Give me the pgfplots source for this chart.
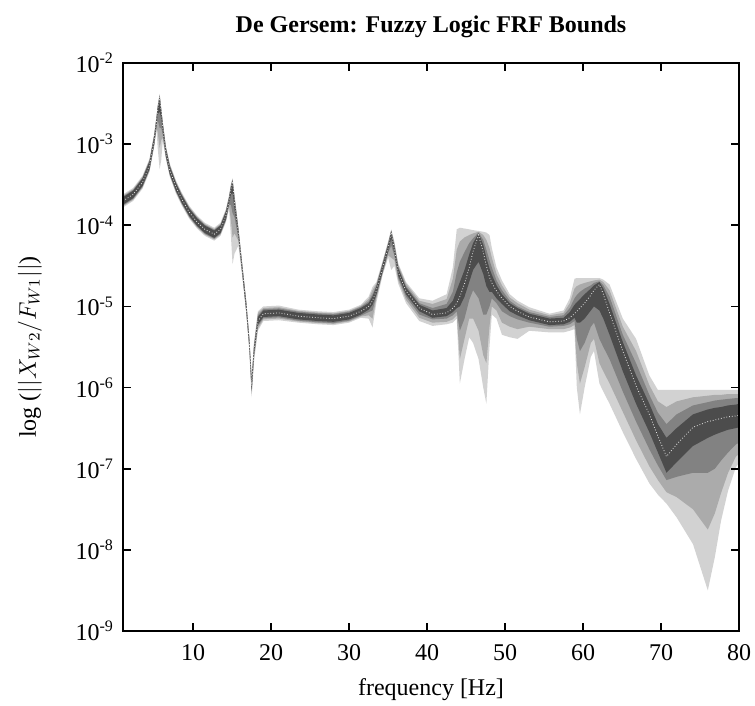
\documentclass[border=0pt]{standalone}
\usepackage{pgfplots}
\pgfplotsset{compat=1.18}
\usepgfplotslibrary{fillbetween}
\usepackage{pgfplotstable}
\usepackage{fontspec}
\setmainfont{Liberation Serif}

% log10 of |X_W2/F_W1| : centre c, outer bounds uo/lo, then inner fuzzy levels
\pgfplotstableread{
x     c      uo     lo     u2     l2     u3     l3     uk     lk
1.0  -3.70  -3.62  -3.78  -3.635 -3.765 -3.645 -3.755 -3.655 -3.745
2.3  -3.62  -3.54  -3.70  -3.555 -3.685 -3.565 -3.675 -3.575 -3.665
3.5  -3.47  -3.39  -3.55  -3.405 -3.535 -3.415 -3.525 -3.425 -3.515
4.4  -3.26  -3.18  -3.34  -3.195 -3.325 -3.205 -3.315 -3.215 -3.305
5.0  -2.95  -2.87  -3.03  -2.885 -3.015 -2.895 -3.005 -2.905 -2.995
5.3  -2.72  -2.65  -2.82  -2.66  -2.80  -2.67  -2.79  -2.68  -2.77
5.45 -2.58  -2.52  -3.05  -2.53  -2.85  -2.54  -2.70  -2.55  -2.63
5.7  -2.42  -2.38  -3.31  -2.39  -3.05  -2.40  -2.80  -2.41  -2.60
5.9  -2.60  -2.55  -3.20  -2.56  -2.95  -2.57  -2.80  -2.58  -2.68
6.1  -2.80  -2.72  -2.96  -2.735 -2.92  -2.745 -2.88  -2.755 -2.85
6.5  -3.10  -3.02  -3.18  -3.035 -3.165 -3.045 -3.155 -3.055 -3.145
7.0  -3.32  -3.24  -3.40  -3.255 -3.385 -3.265 -3.375 -3.275 -3.365
7.8  -3.53  -3.45  -3.61  -3.465 -3.595 -3.475 -3.585 -3.485 -3.575
8.5  -3.67  -3.59  -3.75  -3.605 -3.735 -3.615 -3.725 -3.625 -3.715
9.5  -3.84  -3.76  -3.92  -3.775 -3.905 -3.785 -3.895 -3.795 -3.885
10.5 -3.96  -3.88  -4.04  -3.895 -4.025 -3.905 -4.015 -3.915 -4.005
11.5 -4.05  -3.97  -4.13  -3.985 -4.115 -3.995 -4.105 -4.005 -4.095
12.7 -4.11  -4.03  -4.19  -4.045 -4.175 -4.055 -4.165 -4.065 -4.155
13.5 -4.05  -3.97  -4.13  -3.985 -4.115 -3.995 -4.105 -4.005 -4.095
14.2 -3.88  -3.80  -3.96  -3.815 -3.945 -3.825 -3.935 -3.835 -3.925
14.6 -3.70  -3.63  -3.80  -3.645 -3.76  -3.655 -3.75  -3.665 -3.735
14.85 -3.55 -3.49  -4.15  -3.50  -3.95  -3.51  -3.75  -3.52  -3.62
15.05 -3.46 -3.42  -4.48  -3.43  -4.15  -3.44  -3.85  -3.45  -3.60
15.3 -3.72  -3.62  -4.35  -3.64  -4.10  -3.66  -3.90  -3.68  -3.80
15.8 -4.10  -4.02  -4.25  -4.035 -4.19  -4.05  -4.16  -4.06  -4.14
16.3 -4.55  -4.47  -4.63  -4.485 -4.615 -4.50  -4.60  -4.51  -4.59
16.8 -5.00  -4.92  -5.08  -4.935 -5.065 -4.945 -5.055 -4.955 -5.045
17.2 -5.45  -5.37  -5.55  -5.385 -5.52  -5.40  -5.50  -5.41  -5.49
17.5 -5.98  -5.85  -6.12  -5.88  -6.08  -5.90  -6.05  -5.92  -6.03
17.8 -5.55  -5.45  -5.68  -5.47  -5.64  -5.49  -5.61  -5.51  -5.59
18.3 -5.18  -5.06  -5.30  -5.08  -5.27  -5.11  -5.24  -5.13  -5.22
19.0 -5.09  -5.00  -5.18  -5.02  -5.16  -5.035 -5.145 -5.05  -5.13
21.0 -5.08  -4.99  -5.17  -5.01  -5.15  -5.025 -5.135 -5.04  -5.12
23.5 -5.12  -5.04  -5.20  -5.055 -5.185 -5.065 -5.175 -5.08  -5.16
26.0 -5.14  -5.06  -5.22  -5.075 -5.205 -5.085 -5.195 -5.10  -5.18
28.0 -5.15  -5.07  -5.23  -5.085 -5.215 -5.095 -5.205 -5.11  -5.19
30.0 -5.12  -5.04  -5.20  -5.055 -5.185 -5.065 -5.175 -5.08  -5.16
31.5 -5.06  -4.98  -5.14  -4.995 -5.125 -5.005 -5.115 -5.02  -5.10
32.5 -5.00  -4.88  -5.15  -4.91  -5.11  -4.94  -5.07  -4.96  -5.04
33.0 -4.93  -4.76  -5.26  -4.80  -5.15  -4.85  -5.05  -4.88  -4.98
33.5 -4.80  -4.70  -4.95  -4.72  -4.90  -4.74  -4.87  -4.76  -4.85
34.3 -4.52  -4.44  -4.61  -4.455 -4.595 -4.47  -4.58  -4.48  -4.565
35.0 -4.28  -4.20  -4.40  -4.215 -4.37  -4.23  -4.34  -4.24  -4.32
35.4 -4.09  -4.05  -4.55  -4.06  -4.40  -4.07  -4.25  -4.075 -4.16
35.8 -4.30  -4.20  -4.50  -4.22  -4.43  -4.24  -4.37  -4.26  -4.34
36.3 -4.58  -4.47  -4.72  -4.49  -4.68  -4.51  -4.65  -4.53  -4.62
37.3 -4.81  -4.70  -4.96  -4.72  -4.92  -4.75  -4.88  -4.77  -4.85
39.0 -5.02  -4.90  -5.18  -4.93  -5.14  -4.96  -5.10  -4.98  -5.06
40.7 -5.10  -4.93  -5.24  -4.97  -5.20  -5.02  -5.16  -5.05  -5.14
42.5 -5.08  -4.85  -5.22  -4.91  -5.19  -4.97  -5.15  -5.02  -5.12
43.3 -5.02  -4.52  -5.20  -4.66  -5.16  -4.82  -5.11  -4.93  -5.07
43.8 -4.96  -4.05  -5.15  -4.30  -5.11  -4.58  -5.06  -4.80  -5.02
44.2 -4.88  -4.03  -5.95  -4.20  -5.65  -4.45  -5.30  -4.70  -5.00
44.8 -4.72  -4.04  -5.65  -4.15  -5.40  -4.33  -5.15  -4.55  -4.88
45.4 -4.52  -4.05  -5.38  -4.12  -5.15  -4.22  -4.92  -4.36  -4.70
45.9 -4.32  -4.06  -5.45  -4.10  -5.15  -4.16  -4.80  -4.22  -4.55
46.6 -4.12  -4.07  -5.65  -4.08  -5.30  -4.09  -4.90  -4.10  -4.45
47.2 -4.33  -4.08  -6.00  -4.12  -5.60  -4.18  -5.10  -4.24  -4.60
47.6 -4.50  -4.09  -6.20  -4.18  -5.70  -4.30  -5.10  -4.40  -4.75
48.0 -4.64  -4.12  -5.50  -4.28  -5.25  -4.43  -5.00  -4.53  -4.82
48.3 -4.71  -4.28  -5.10  -4.40  -5.00  -4.52  -4.90  -4.61  -4.82
48.9 -4.81  -4.52  -5.15  -4.60  -5.05  -4.68  -4.96  -4.74  -4.90
49.6 -4.90  -4.68  -5.35  -4.74  -5.20  -4.80  -5.06  -4.85  -4.97
50.6 -5.00  -4.85  -5.38  -4.89  -5.25  -4.93  -5.12  -4.96  -5.06
51.6 -5.06  -4.93  -5.40  -4.96  -5.28  -5.00  -5.16  -5.02  -5.11
53.1 -5.13  -5.01  -5.30  -5.04  -5.25  -5.07  -5.20  -5.09  -5.17
55.7 -5.19  -5.09  -5.32  -5.11  -5.28  -5.13  -5.25  -5.15  -5.23
57.5 -5.18  -5.05  -5.32  -5.08  -5.28  -5.11  -5.24  -5.14  -5.22
58.3 -5.14  -4.90  -5.30  -4.96  -5.26  -5.02  -5.22  -5.07  -5.19
58.9 -5.09  -4.66  -5.28  -4.78  -5.23  -4.90  -5.18  -4.98  -5.14
59.2 -5.06  -4.65  -6.00  -4.75  -5.70  -4.86  -5.40  -4.95  -5.20
59.6 -5.02  -4.65  -6.33  -4.73  -5.95  -4.82  -5.55  -4.91  -5.20
60.2 -4.96  -4.65  -6.00  -4.71  -5.75  -4.78  -5.45  -4.85  -5.15
61.0 -4.86  -4.65  -5.62  -4.69  -5.45  -4.74  -5.25  -4.78  -5.05
61.4 -4.80  -4.65  -5.55  -4.68  -5.40  -4.71  -5.20  -4.74  -5.00
62.1 -4.73  -4.65  -5.95  -4.67  -5.70  -4.69  -5.40  -4.70  -5.05
62.6 -4.85  -4.67  -6.05  -4.70  -5.80  -4.74  -5.50  -4.78  -5.15
63.4 -5.08  -4.73  -6.20  -4.80  -5.95  -4.88  -5.65  -4.97  -5.35
65.1 -5.55  -5.15  -6.55  -5.25  -6.30  -5.35  -6.05  -5.44  -5.80
66.8 -5.98  -5.40  -6.88  -5.55  -6.65  -5.70  -6.42  -5.85  -6.20
68.5 -6.33  -5.85  -7.18  -5.97  -6.97  -6.09  -6.76  -6.20  -6.55
69.6 -6.60  -6.03  -7.32  -6.17  -7.14  -6.31  -6.96  -6.45  -6.80
70.7 -6.85  -6.03  -7.43  -6.24  -7.29  -6.45  -7.14  -6.62  -7.05
72.0 -6.70  -6.03  -7.60  -6.17  -7.35  -6.33  -7.10  -6.50  -6.92
74.1 -6.49  -6.03  -7.93  -6.12  -7.50  -6.22  -7.05  -6.33  -6.72
76.0 -6.42  -6.03  -8.50  -6.10  -7.75  -6.18  -7.05  -6.27  -6.62
76.9 -6.40  -6.03  -8.09  -6.09  -7.55  -6.16  -7.00  -6.25  -6.58
77.7 -6.38  -6.03  -7.64  -6.09  -7.30  -6.15  -6.90  -6.24  -6.55
78.6 -6.36  -6.03  -7.27  -6.08  -7.05  -6.14  -6.80  -6.22  -6.52
79.6 -6.35  -6.03  -6.98  -6.08  -6.85  -6.13  -6.70  -6.21  -6.50
80.0 -6.34  -6.03  -6.93  -6.08  -6.82  -6.13  -6.68  -6.20  -6.49
}\frf

\definecolor{lev1}{HTML}{D2D2D2}
\definecolor{lev2}{HTML}{ABABAB}
\definecolor{lev3}{HTML}{828282}
\definecolor{lev4}{HTML}{4C4C4C}

\begin{document}
\begin{tikzpicture}
\begin{axis}[
  scale only axis,
  width=308pt, height=284pt,
  xmin=1, xmax=80, ymin=-9, ymax=-2,
  xtick={10,20,30,40,50,60,70,80},
  ytick={-9,-8,-7,-6,-5,-4,-3,-2},
  yticklabels={10\textsuperscript{-9},10\textsuperscript{-8},10\textsuperscript{-7},10\textsuperscript{-6},10\textsuperscript{-5},10\textsuperscript{-4},10\textsuperscript{-3},10\textsuperscript{-2}},
  /pgf/number format/assume math mode=true,
  tick align=inside,
  major tick length=4pt,
  minor tick num=0,
  axis line style={line width=0.9pt},
  every tick/.style={black, line width=0.9pt},
  axis on top,
  tick label style={font=\fontsize{12}{14}\selectfont},
  xticklabel style={yshift=-3pt},
  yticklabel style={xshift=-1pt},
  title={\textbf{De Gersem: Fuzzy Logic FRF Bounds}},
  title style={at={(axis description cs:0.5,1.042)}, anchor=center, font=\fontsize{12}{14}\selectfont},
  xlabel={frequency [Hz]},
  xlabel style={at={(axis description cs:0.5,-0.104)}, anchor=center, font=\fontsize{12}{14}\selectfont},
  ylabel={log (\(||X_{W2}/F_{W1}||\))},
  ylabel style={at={(axis description cs:-0.151,0.5)}, anchor=center, font=\fontsize{12}{14}\selectfont},
]
\addplot[draw=none, name path=uo] table[x=x, y=uo] {\frf};
\addplot[draw=none, name path=lo] table[x=x, y=lo] {\frf};
\addplot[draw=none, name path=u2] table[x=x, y=u2] {\frf};
\addplot[draw=none, name path=l2] table[x=x, y=l2] {\frf};
\addplot[draw=none, name path=u3] table[x=x, y=u3] {\frf};
\addplot[draw=none, name path=l3] table[x=x, y=l3] {\frf};
\addplot[draw=none, name path=uk] table[x=x, y=uk] {\frf};
\addplot[draw=none, name path=lk] table[x=x, y=lk] {\frf};
\addplot[lev1, draw=none] fill between[of=uo and lo];
\addplot[lev2, draw=none] fill between[of=u2 and l2];
\addplot[lev3, draw=none] fill between[of=u3 and l3];
\addplot[lev4, draw=none] fill between[of=uk and lk];
\addplot[white!80!gray, densely dotted, line width=0.4pt] table[x=x, y=c] {\frf};
\end{axis}
\pgfresetboundingbox
\path ([shift={(-61.5pt,-37.5pt)}]current axis.south west) rectangle ([shift={(8pt,31.5pt)}]current axis.north east);
\end{tikzpicture}
\end{document}
